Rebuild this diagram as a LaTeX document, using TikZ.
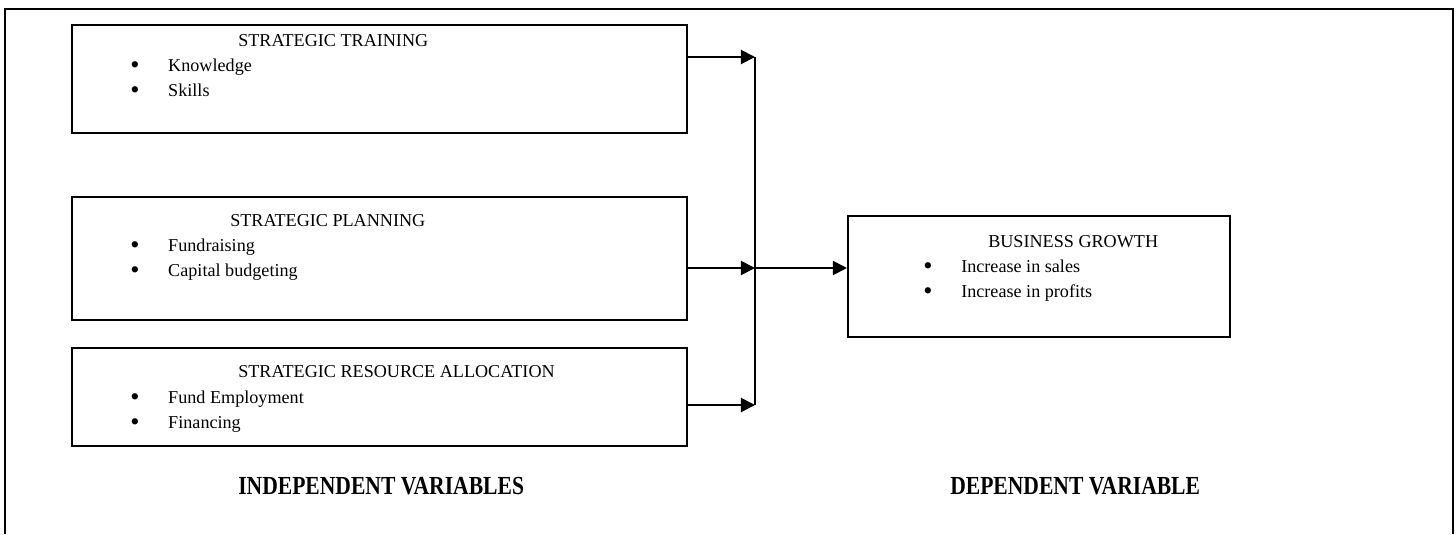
\documentclass[tikz,border=0pt]{standalone}
\usepackage{fontspec}
\setmainfont{Liberation Serif}
\usetikzlibrary{arrows.meta}

\newcommand{\bul}{\makebox[27pt][l]{\raisebox{-1.7pt}{\scalebox{1.45}{\textbullet}}}}
\newcommand{\narrowbold}[1]{\scalebox{0.83}[1]{\fontsize{18.5}{20}\selectfont\bfseries #1}}

\tikzset{
  varbox/.style={draw, line width=1.4pt, inner sep=0pt},
  txt/.style={anchor=base west, inner sep=0pt},
  conn/.style={line width=1.4pt, -{Triangle[length=10pt,width=10pt]}}
}

\begin{document}
\begin{tikzpicture}[x=0.025cm,y=-0.025cm, font=\fontsize{12.9}{15}\selectfont]
  \useasboundingbox (0,0) rectangle (1456,534);
  \draw[line width=1.4pt] (5,534) -- (5,9) -- (1453,9) -- (1453,534);

  % the three independent variables
  \node[varbox, minimum width=15.375cm, minimum height=2.7cm] (train) at (379.5,79) {};
  \node[varbox, minimum width=15.375cm, minimum height=3.075cm] (plan) at (379.5,258.5) {};
  \node[varbox, minimum width=15.375cm, minimum height=2.45cm] (alloc) at (379.5,397) {};
  % dependent variable
  \node[varbox, minimum width=9.55cm, minimum height=3.025cm] (growth) at (1039,276.5) {};

  \node[txt] (trainhead) at (238,46) {STRATEGIC TRAINING};
  \node[txt] (know) at (130,71) {\bul Knowledge};
  \node[txt] (skill) at (130,96) {\bul Skills};

  \node[txt] (planhead) at (230,226) {STRATEGIC PLANNING};
  \node[txt] (fund) at (130,251) {\bul Fundraising};
  \node[txt] (capital) at (130,276) {\bul Capital budgeting};

  \node[txt] (allochead) at (238,377) {STRATEGIC RESOURCE ALLOCATION};
  \node[txt] (employ) at (130,403) {\bul Fund Employment};
  \node[txt] (finance) at (130,428) {\bul Financing};

  \node[txt] (growthhead) at (988,247) {BUSINESS GROWTH};
  \node[txt] (sales) at (923,272) {\bul Increase in sales};
  \node[txt] (profit) at (923,297) {\bul Increase in profits};

  \node[txt] (indep) at (238,494) {\narrowbold{INDEPENDENT VARIABLES}};
  \node[txt] (dep) at (950,494) {\narrowbold{DEPENDENT VARIABLE}};

  % joining bar and arrows
  \coordinate (j1) at (755,57);
  \coordinate (j2) at (755,268);
  \coordinate (j3) at (755,405);
  \draw[line width=1.4pt] (j1) -- (j3);
  \draw[conn] (train.east |- j1) -- (j1);
  \draw[conn] (plan.east |- j2) -- (j2);
  \draw[conn] (alloc.east |- j3) -- (j3);
  \draw[conn] (j2) -- (growth.west |- j2);
\end{tikzpicture}
\end{document}
